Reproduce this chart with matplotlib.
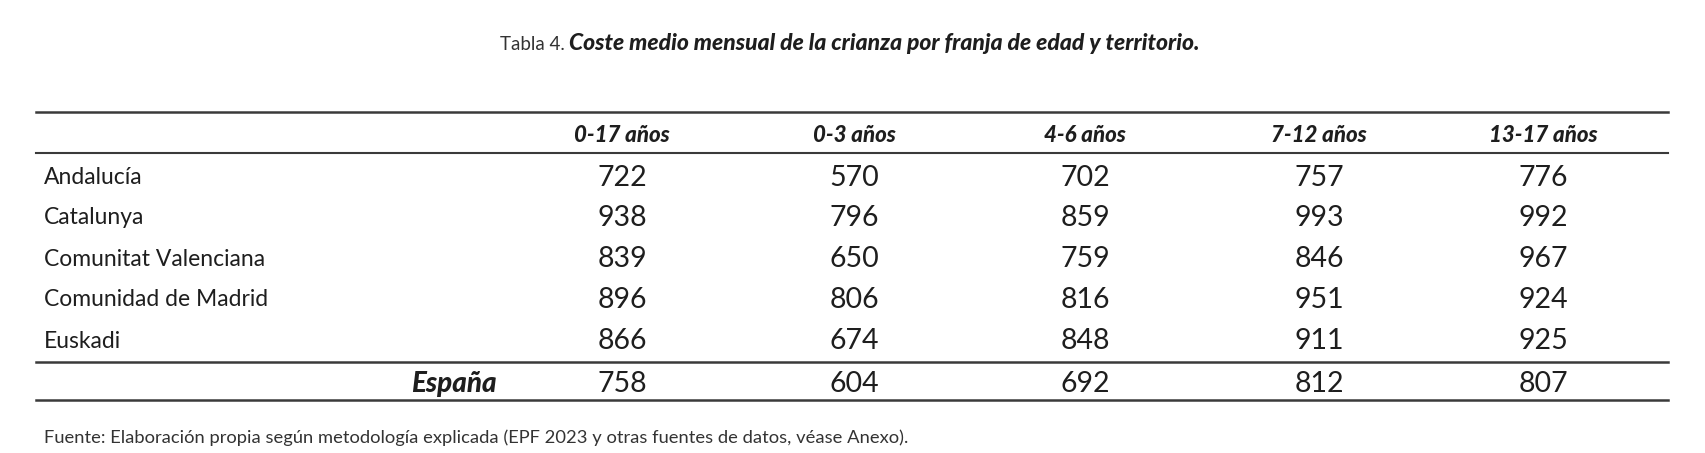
import matplotlib.pyplot as plt

plt.rcParams['font.family'] = ['Lato', 'DejaVu Sans']

# Datos de la tabla
columnas = ['0-17 años', '0-3 años', '4-6 años', '7-12 años', '13-17 años']
territorios = ['Andalucía', 'Catalunya', 'Comunitat Valenciana', 'Comunidad de Madrid', 'Euskadi']
valores = [
    [722, 570, 702, 757, 776],
    [938, 796, 859, 993, 992],
    [839, 650, 759, 846, 967],
    [896, 806, 816, 951, 924],
    [866, 674, 848, 911, 925],
]
espana = [758, 604, 692, 812, 807]

titulo_pre = 'Tabla 4.'
titulo = 'Coste medio mensual de la crianza por franja de edad y territorio.'
fuente = 'Fuente: Elaboración propia según metodología explicada (EPF 2023 y otras fuentes de datos, véase Anexo).'

W, H = 1706, 453
fig = plt.figure(figsize=(W / 100, H / 100), dpi=100)
ax = fig.add_axes([0, 0, 1, 1])
ax.set_xlim(0, W)
ax.set_ylim(H, 0)
ax.axis('off')

tc = '#1e1e1e'
col_x = [622, 854, 1085, 1319, 1543]
fila_y = [178, 218, 259, 300, 341]

# Título
ax.text(565, 45, titulo_pre, ha='right', va='center', fontsize=13.5, color='#333333')
ax.text(569, 44, titulo, ha='left', va='center', fontsize=16.5, fontweight='black',
        fontstyle='italic', color=tc)

# Líneas
x0, x1 = 36, 1668
ax.plot([x0, x1], [112, 112], color='#3a3a3a', lw=1.8)
ax.plot([x0, x1], [153, 153], color='#3a3a3a', lw=1.5)
ax.plot([x0, x1], [362, 362], color='#3a3a3a', lw=1.8)
ax.plot([x0, x1], [400, 400], color='#3a3a3a', lw=1.8)

# Cabecera
for x, c in zip(col_x, columnas):
    ax.text(x, 136, c, ha='center', va='center', fontsize=16, fontweight='black',
            fontstyle='italic', color=tc)

# Filas
for y, nombre, fila in zip(fila_y, territorios, valores):
    ax.text(44, y, nombre, ha='left', va='center', fontsize=16.5, color=tc)
    for x, v in zip(col_x, fila):
        ax.text(x, y, str(v), ha='center', va='center', fontsize=20.5, color=tc)

ax.text(497, 384, 'España', ha='right', va='center', fontsize=20, fontweight='black',
        fontstyle='italic', color=tc)
for x, v in zip(col_x, espana):
    ax.text(x, 384, str(v), ha='center', va='center', fontsize=20.5, color=tc)

# Fuente
ax.text(44, 438, fuente, ha='left', va='center', fontsize=13.2, color='#333333')

fig.savefig('out.png', dpi=100)
